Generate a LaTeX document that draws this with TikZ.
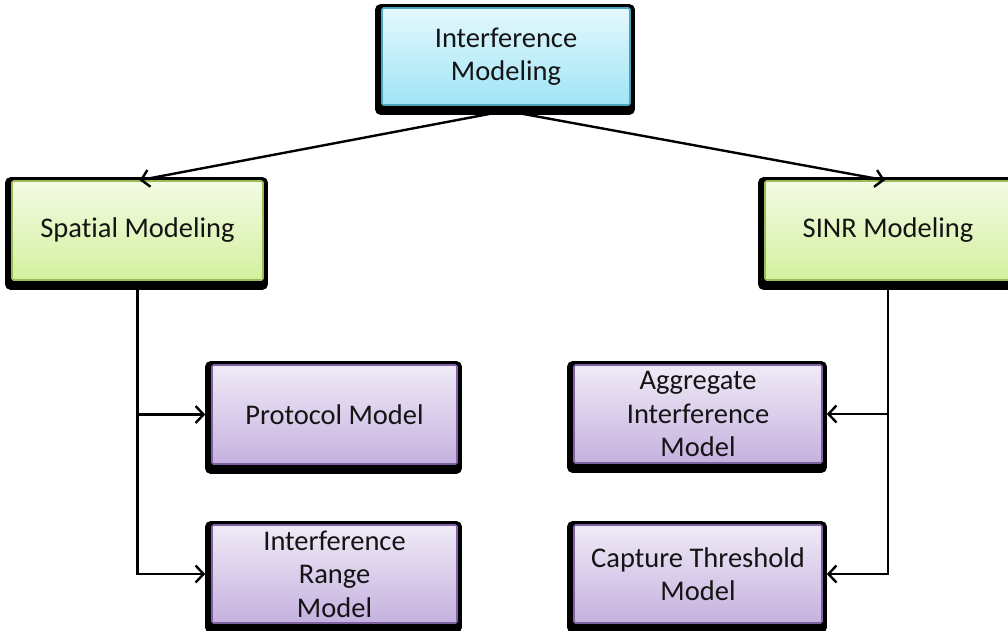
\documentclass[tikz,border=0pt]{standalone}
\usepackage{fontspec}
\setmainfont{Carlito}[Ligatures=NoCommon]
\usetikzlibrary{arrows.meta,backgrounds}
\definecolor{cyT}{HTML}{E4F8FD}
\definecolor{cyB}{HTML}{A0E4F6}
\definecolor{cyD}{HTML}{4BA3BC}
\definecolor{grT}{HTML}{F4FBE3}
\definecolor{grB}{HTML}{D3F09E}
\definecolor{grD}{HTML}{9BBB59}
\definecolor{puT}{HTML}{F0EAF7}
\definecolor{puB}{HTML}{C5B1DF}
\definecolor{puD}{HTML}{7E63A0}
\begin{document}
\begin{tikzpicture}[x=1pt,y=1pt,
  box/.style={line width=1.6pt, rounded corners=1.5pt, align=center, text=black!92,
    font=\fontsize{28.5}{33.5}\selectfont, inner sep=0pt},
  cyanbox/.style={box, top color=cyT, bottom color=cyB, draw=cyD},
  greenbox/.style={box, top color=grT, bottom color=grB, draw=grD},
  purplebox/.style={box, top color=puT, bottom color=puB, draw=puD},
  conn/.style={line width=2.4pt, -{Straight Barb[length=8pt,width=17pt,line width=2.4pt]}},
]
\useasboundingbox (0,0) rectangle (1008,-631);

\node[cyanbox, minimum width=248pt, minimum height=97pt] (im) at (506,-56.5) {Interference\\Modeling};
\node[greenbox, minimum width=251pt, minimum height=99pt] (sm) at (137.5,-230.5) {Spatial Modeling};
\node[greenbox, minimum width=246pt, minimum height=99pt] (sinr) at (888,-230.5) {SINR Modeling};
\node[purplebox, minimum width=245pt, minimum height=99pt] (pm) at (334.5,-414.5) {Protocol Model};
\node[purplebox, minimum width=245pt, minimum height=98pt] (irm) at (334.5,-574) {Interference\\Range\\Model};
\node[purplebox, minimum width=248pt, minimum height=98pt] (aim) at (698,-414) {Aggregate\\Interference\\Model};
\node[purplebox, minimum width=248pt, minimum height=98pt] (ctm) at (698,-574) {Capture Threshold\\Model};

\begin{scope}[on background layer]
\foreach \n in {im,sm,sinr,pm,irm,aim,ctm}
  \fill[black, rounded corners=5pt] ([xshift=-6pt,yshift=3pt]\n.north west) rectangle ([xshift=4pt,yshift=-9pt]\n.south east);
\end{scope}

\draw[conn] ([yshift=-5pt]im.south) -- ([xshift=2pt]sm.north);
\draw[conn] ([yshift=-5pt]im.south) -- ([xshift=-3pt]sinr.north);

\draw[conn] (sm.south) |- ([xshift=-6pt]irm.west);
\draw[conn] (sm.south |- pm.west) -- ([xshift=-6pt]pm.west);

\draw[conn] (sinr.south) |- ([xshift=4pt]ctm.east);
\draw[conn] (sinr.south |- aim.east) -- ([xshift=4pt]aim.east);
\end{tikzpicture}
\end{document}
